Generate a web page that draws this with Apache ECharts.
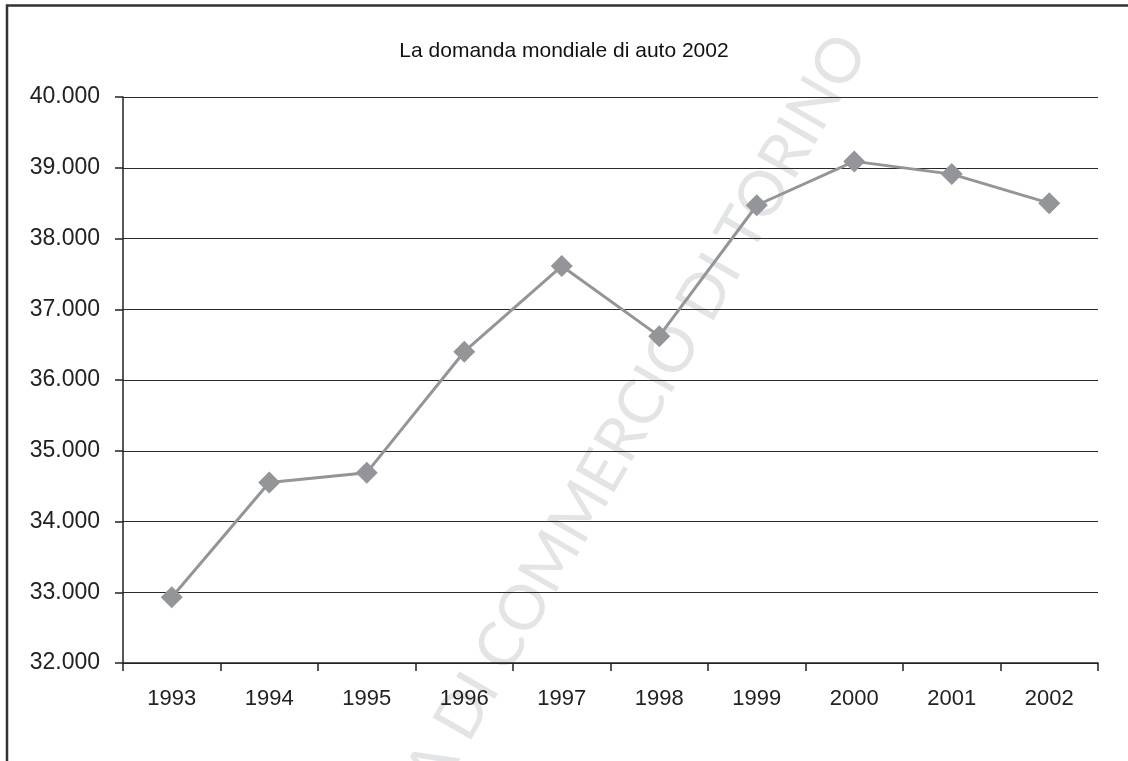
<!DOCTYPE html>
<html>
<head>
<meta charset="utf-8">
<title>La domanda mondiale di auto 2002</title>
<script src="https://cdn.jsdelivr.net/npm/echarts@6/dist/echarts.min.js"></script>
<style>
  html, body { margin: 0; padding: 0; background: #fff; }
  #chart { width: 1128px; height: 761px; }
</style>
</head>
<body>
<div id="chart"></div>
<script>
// dati (migliaia di auto)
const years = ['1993', '1994', '1995', '1996', '1997', '1998', '1999', '2000', '2001', '2002'];
const demand = [32930, 34550, 34690, 36400, 37610, 36620, 38470, 39090, 38910, 38500];
const yMin = 32000;
const yMax = 40000;
const yStep = 1000;

const FONT = "'Liberation Sans Narrow', 'Liberation Sans', sans-serif";

function itNumber(v) {
  return String(v).replace(/\B(?=(\d{3})+(?!\d))/g, '.');
}

const chart = echarts.init(document.getElementById('chart'));

chart.setOption({
  animation: false,
  backgroundColor: '#fff',
  title: {
    text: 'La domanda mondiale di auto 2002',
    left: 'center',
    top: 36,
    textStyle: {
      fontFamily: FONT,
      fontSize: 21,
      fontWeight: 'normal',
      color: '#111'
    }
  },
  grid: {
    left: 123,
    right: 30,
    top: 97,
    bottom: 98
  },
  xAxis: {
    type: 'category',
    data: years,
    boundaryGap: true,
    axisLine: { lineStyle: { color: '#222', width: 1.5 } },
    axisTick: { show: true, length: 8, alignWithLabel: false, lineStyle: { color: '#222', width: 1.5 } },
    axisLabel: {
      margin: 25,
      fontFamily: FONT,
      fontSize: 22,
      color: '#222'
    },
    splitLine: { show: false }
  },
  yAxis: {
    type: 'value',
    min: yMin,
    max: yMax,
    interval: yStep,
    axisLine: { show: true, lineStyle: { color: '#222', width: 1.5 } },
    axisTick: { show: true, length: 8, lineStyle: { color: '#222', width: 1.5 } },
    axisLabel: {
      margin: 23,
      fontFamily: FONT,
      fontSize: 23,
      color: '#222',
      formatter: itNumber
    },
    splitLine: { show: true, lineStyle: { color: '#2a2a2a', width: 1.2 } }
  },
  series: [{
    name: 'Domanda mondiale',
    type: 'line',
    data: demand,
    z: 5,
    symbol: 'diamond',
    symbolSize: 22,
    lineStyle: { color: '#939598', width: 3 },
    itemStyle: { color: '#939598' }
  }],
  graphic: [
    // cornice esterna (solo lato sinistro e superiore visibili)
    {
      type: 'polyline',
      silent: true,
      shape: { points: [[7, 761], [7, 5.5], [1128, 5.5]] },
      style: { stroke: '#333', lineWidth: 2.5, fill: null }
    },
    // filigrana
    {
      type: 'text',
      silent: true,
      z: -10,
      x: 852,
      y: 40,
      rotation: 60 * Math.PI / 180,
      style: {
        text: 'CAMERA DI COMMERCIO DI TORINO',
        fontFamily: "Lato, 'Open Sans', sans-serif",
        fontWeight: 'normal',
        fontSize: 62,
        fill: '#e3e4e6',
        align: 'right',
        verticalAlign: 'middle'
      }
    }
  ]
});
</script>
</body>
</html>
